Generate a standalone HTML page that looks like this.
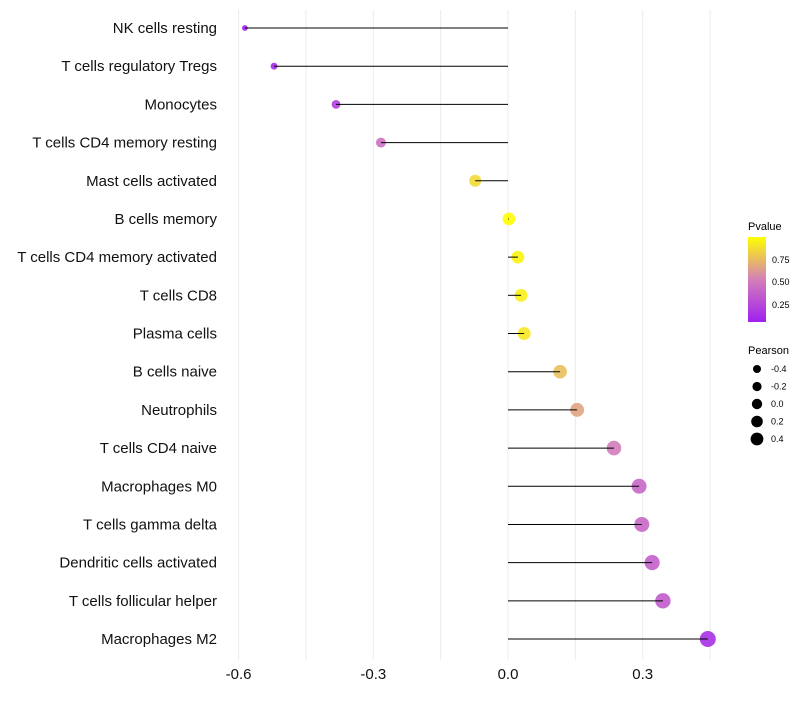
<!DOCTYPE html>
<html><head><meta charset="utf-8"><style>
body{margin:0;background:#fff;font-family:"Liberation Sans",sans-serif}
svg text{font-family:"Liberation Sans",sans-serif}
</style></head><body>
<svg id="chart" width="800" height="700" xmlns="http://www.w3.org/2000/svg">
<defs><linearGradient id="pg" x1="0" y1="1" x2="0" y2="0">
<stop offset="0" stop-color="#a020f0"/><stop offset="0.5" stop-color="#d47fb8"/><stop offset="1" stop-color="#ffff00"/>
</linearGradient></defs>
<g id="grid"></g><g id="marks"></g><g id="labels"></g>
<g id="legend">
<text x="748" y="230" font-size="11">Pvalue</text>
<rect x="748" y="237" width="18" height="85" fill="url(#pg)"/>
<text x="772" y="263" font-size="9">0.75</text>
<text x="772" y="285" font-size="9">0.50</text>
<text x="772" y="308" font-size="9">0.25</text>
<text x="748" y="354" font-size="11">Pearson</text>
</g>
</svg>
<script>
const categories=["NK cells resting","T cells regulatory  Tregs","Monocytes","T cells CD4 memory resting","Mast cells activated","B cells memory","T cells CD4 memory activated","T cells CD8","Plasma cells","B cells naive","Neutrophils","T cells CD4 naive","Macrophages M0","T cells gamma delta","Dendritic cells activated","T cells follicular helper","Macrophages M2"];
const pearson=[-0.586,-0.521,-0.383,-0.283,-0.073,0.002,0.022,0.029,0.036,0.116,0.154,0.236,0.292,0.298,0.321,0.345,0.445];
const pvalues=[0.05,0.1,0.2,0.45,0.85,0.99,0.95,0.93,0.9,0.76,0.66,0.5,0.4,0.4,0.36,0.34,0.13];
const xTicks=[-0.6,-0.3,0.0,0.3];
const sizeLegend=[-0.4,-0.2,0.0,0.2,0.4];
const NS="http://www.w3.org/2000/svg";
const x=v=>508+v*449;
const y=i=>28+i*(611/(categories.length-1));
const r=v=>Math.sqrt(Math.max(3,40+54*v));
function lerp(a,b,t){return a.map((c,k)=>Math.round(c+(b[k]-c)*t));}
function col(p){const t=Math.min(1,Math.max(0,(p-0.05)/0.94));const A=[160,32,240],M=[212,127,184],B=[255,255,0];
const c=t<0.5?lerp(A,M,t*2):lerp(M,B,(t-0.5)*2);return `rgb(${c})`;}
function mk(tag,attrs,parent){const e=document.createElementNS(NS,tag);for(const k in attrs)e.setAttribute(k,attrs[k]);document.getElementById(parent).appendChild(e);return e;}
for(let v=-0.6;v<=0.451;v+=0.15){const g=mk('line',{x1:x(v),x2:x(v),y1:10,y2:660,stroke:'#ebebeb','stroke-width':1},'grid');

}
xTicks.forEach(t=>{const e=mk('text',{x:x(t),y:679,'font-size':15,'text-anchor':'middle',fill:'#111'},'labels');e.textContent=t.toFixed(1);

});
categories.forEach((c,i)=>{const e=mk('text',{x:217,y:y(i)+5,'font-size':15,'text-anchor':'end',fill:'#111'},'labels');e.textContent=c;


const p=mk('circle',{cx:x(pearson[i]),cy:y(i),r:r(pearson[i]),fill:col(pvalues[i]),'fill-opacity':0.9},'marks');


const l=mk('line',{x1:x(0),x2:x(pearson[i]),y1:y(i),y2:y(i),stroke:'#000','stroke-width':1},'marks');

});
sizeLegend.forEach((v,i)=>{const cy=369+i*17.5;
const c=mk('circle',{cx:757,cy:cy,r:4+i*0.6,fill:'#000'},'legend');


const t=mk('text',{x:771,y:cy+3,'font-size':9},'legend');t.textContent=v.toFixed(1);

});
</script>
</body></html>
